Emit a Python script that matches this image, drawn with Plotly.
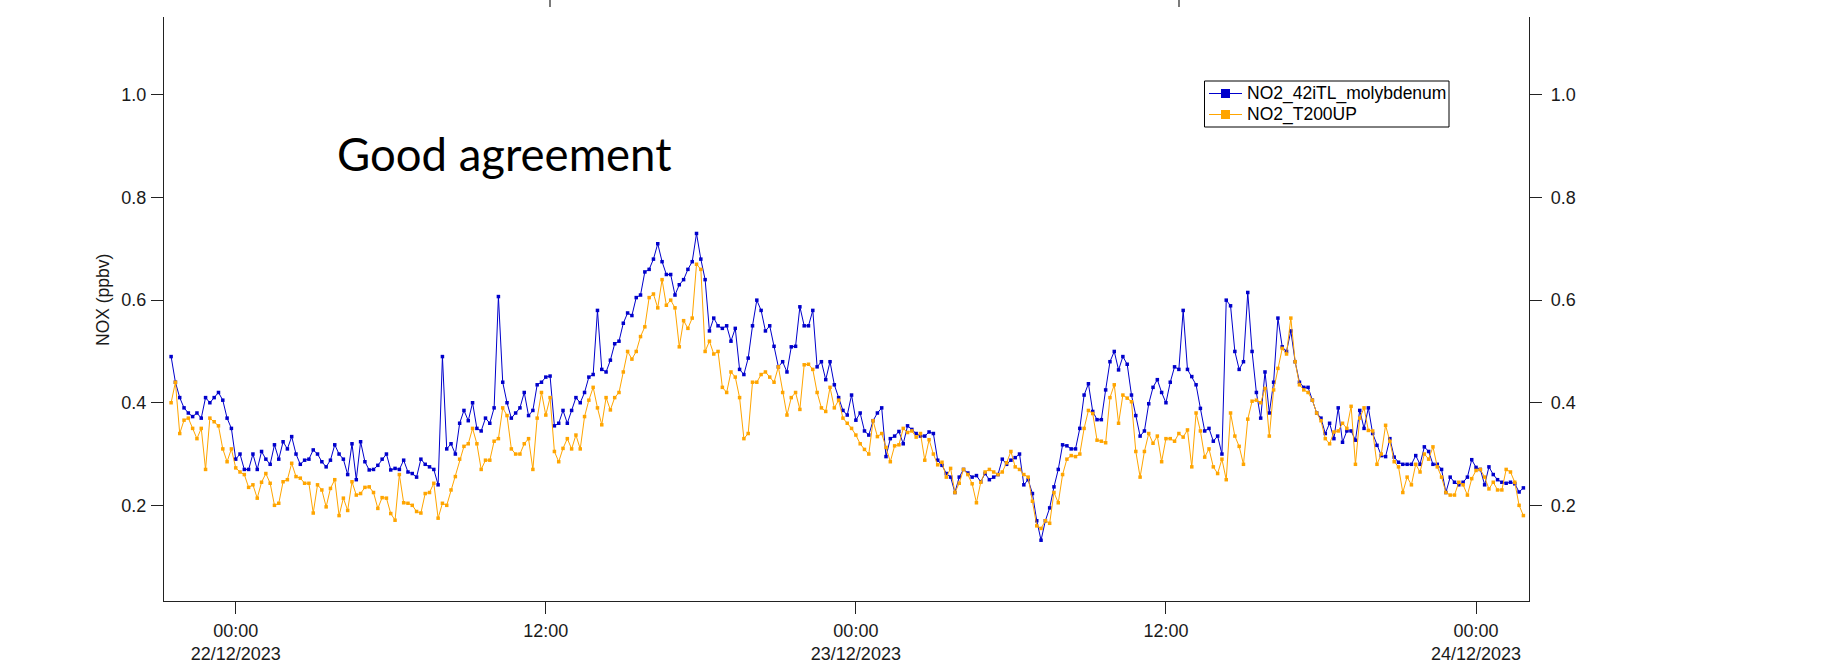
"""
NO2 comparison: 42iTL molybdenum converter vs T200UP (10-min data, 21-24/12/2023)
"""
import pandas as pd
import plotly.graph_objects as go

# ---- data (ppbv), one value every 10 min starting 21/12/2023 21:30 ----
START_TIME = "2023-12-21 21:30"
STEP = "10min"

no2_42itl_molybdenum = [
    0.49, 0.44, 0.41, 0.39, 0.38, 0.373, 0.38, 0.37, 0.41, 0.40,
    0.41, 0.42, 0.405, 0.37, 0.35, 0.29, 0.30, 0.27, 0.27, 0.30,
    0.27, 0.305, 0.29, 0.28, 0.318, 0.29, 0.324, 0.31, 0.334, 0.30,
    0.28, 0.288, 0.29, 0.308, 0.30, 0.285, 0.275, 0.288, 0.318, 0.30,
    0.29, 0.26, 0.32, 0.25, 0.324, 0.285, 0.269, 0.27, 0.278, 0.29,
    0.30, 0.269, 0.272, 0.27, 0.288, 0.265, 0.262, 0.255,
    0.29, 0.28, 0.275, 0.27, 0.24, 0.49, 0.31, 0.32, 0.30, 0.36,
    0.385, 0.365, 0.40, 0.35, 0.345, 0.37, 0.36, 0.39, 0.607, 0.44,
    0.40, 0.37, 0.38, 0.39, 0.42, 0.375, 0.385, 0.435, 0.44, 0.45,
    0.452, 0.355, 0.36, 0.385, 0.36, 0.385, 0.41, 0.40, 0.42, 0.45,
    0.455, 0.58, 0.465, 0.46, 0.483, 0.515, 0.52, 0.555, 0.575, 0.57,
    0.605, 0.61,
    0.655, 0.66, 0.68, 0.71, 0.675, 0.65, 0.65, 0.61, 0.63, 0.64,
    0.66, 0.675, 0.73, 0.68, 0.64, 0.54, 0.565, 0.55, 0.545, 0.55,
    0.52, 0.545, 0.465, 0.455, 0.487, 0.55, 0.60, 0.58, 0.54, 0.55,
    0.51, 0.47, 0.48, 0.46, 0.509, 0.51, 0.587, 0.55, 0.55, 0.58,
    0.47, 0.48, 0.445, 0.48, 0.435, 0.41, 0.385, 0.376, 0.415, 0.366,
    0.38, 0.345,
    0.337, 0.365, 0.38, 0.39, 0.295, 0.33, 0.335, 0.344, 0.32, 0.355,
    0.348, 0.34, 0.335, 0.335, 0.343, 0.34, 0.288, 0.278, 0.262, 0.255,
    0.225, 0.255, 0.27, 0.263, 0.255, 0.258, 0.246, 0.262, 0.25, 0.255,
    0.26, 0.29, 0.28, 0.288, 0.293, 0.30, 0.24, 0.25, 0.223, 0.17,
    0.132, 0.17, 0.195, 0.236, 0.27, 0.318, 0.316, 0.31, 0.31, 0.35,
    0.415, 0.437, 0.383,
    0.367, 0.367, 0.425, 0.48, 0.50, 0.464, 0.49, 0.475, 0.415, 0.375,
    0.335, 0.345, 0.398, 0.43, 0.445, 0.42, 0.40, 0.44, 0.47, 0.465,
    0.58, 0.465, 0.451, 0.435, 0.389, 0.345, 0.35, 0.325, 0.335, 0.30,
    0.60, 0.589, 0.50, 0.465, 0.48, 0.615, 0.50, 0.42, 0.37, 0.46,
    0.38, 0.44, 0.565, 0.509, 0.50, 0.54, 0.48, 0.44, 0.43, 0.43,
    0.405, 0.38,
    0.37, 0.34, 0.36, 0.33, 0.39, 0.323, 0.345, 0.345, 0.327, 0.385,
    0.35, 0.39, 0.34, 0.317, 0.297, 0.295, 0.33, 0.294, 0.284, 0.28,
    0.28, 0.28, 0.297, 0.28, 0.314, 0.305, 0.28, 0.28, 0.27, 0.225,
    0.255, 0.245, 0.24, 0.245, 0.255, 0.289, 0.274, 0.27, 0.24, 0.275,
    0.26, 0.25, 0.245, 0.243, 0.245, 0.242, 0.226, 0.234,
]

no2_t200up = [
    0.40, 0.44, 0.34, 0.366, 0.37, 0.35, 0.33, 0.35, 0.27, 0.37,
    0.363, 0.355, 0.31, 0.285, 0.31, 0.273, 0.265, 0.26, 0.235, 0.24,
    0.214, 0.245, 0.262, 0.243, 0.20, 0.204, 0.246, 0.25, 0.282, 0.256,
    0.253, 0.243, 0.243, 0.185, 0.24, 0.23, 0.197, 0.233, 0.25, 0.18,
    0.214, 0.19, 0.246, 0.22, 0.223, 0.235, 0.236, 0.225, 0.194, 0.215,
    0.214, 0.184, 0.171, 0.26, 0.205, 0.204, 0.20, 0.188,
    0.185, 0.223, 0.225, 0.243, 0.175, 0.204, 0.20, 0.23, 0.256, 0.29,
    0.315, 0.32, 0.35, 0.32, 0.27, 0.288, 0.288, 0.325, 0.33, 0.39,
    0.375, 0.31, 0.30, 0.30, 0.32, 0.33, 0.27, 0.37, 0.42, 0.376,
    0.41, 0.305, 0.285, 0.311, 0.33, 0.31, 0.337, 0.31, 0.373, 0.405,
    0.43, 0.39, 0.357, 0.41, 0.386, 0.41, 0.42, 0.46, 0.50, 0.485,
    0.50, 0.529,
    0.548, 0.605, 0.612, 0.585, 0.64, 0.59, 0.60, 0.585, 0.509, 0.56,
    0.545, 0.565, 0.67, 0.66, 0.50, 0.52, 0.495, 0.50, 0.43, 0.42,
    0.46, 0.45, 0.41, 0.33, 0.34, 0.44, 0.44, 0.455, 0.46, 0.45,
    0.44, 0.47, 0.42, 0.376, 0.41, 0.42, 0.387, 0.474, 0.475, 0.465,
    0.42, 0.39, 0.383, 0.43, 0.39, 0.405, 0.37, 0.36, 0.35, 0.337,
    0.32, 0.309,
    0.30, 0.365, 0.334, 0.34, 0.313, 0.285, 0.316, 0.318, 0.35, 0.342,
    0.345, 0.333, 0.34, 0.288, 0.328, 0.30, 0.279, 0.284, 0.255, 0.272,
    0.225, 0.243, 0.27, 0.26, 0.242, 0.205, 0.245, 0.265, 0.27, 0.265,
    0.26, 0.265, 0.283, 0.305, 0.275, 0.27, 0.26, 0.255, 0.208, 0.16,
    0.155, 0.17, 0.165, 0.225, 0.205, 0.26, 0.29, 0.297, 0.295, 0.30,
    0.35, 0.385, 0.379,
    0.327, 0.325, 0.322, 0.41, 0.435, 0.36, 0.415, 0.409, 0.402, 0.305,
    0.255, 0.305, 0.34, 0.321, 0.335, 0.285, 0.33, 0.33, 0.325, 0.34,
    0.333, 0.347, 0.275, 0.38, 0.345, 0.294, 0.31, 0.275, 0.262, 0.29,
    0.25, 0.38, 0.335, 0.315, 0.28, 0.368, 0.403, 0.405, 0.40, 0.428,
    0.335, 0.425, 0.467, 0.506, 0.495, 0.565, 0.48, 0.435, 0.425, 0.42,
    0.405, 0.38,
    0.365, 0.33, 0.32, 0.343, 0.345, 0.36, 0.35, 0.393, 0.28, 0.37,
    0.39, 0.346, 0.345, 0.28, 0.30, 0.356, 0.325, 0.285, 0.275, 0.225,
    0.255, 0.24, 0.28, 0.265, 0.30, 0.29, 0.314, 0.275, 0.255, 0.225,
    0.22, 0.22, 0.245, 0.24, 0.22, 0.252, 0.268, 0.27, 0.255, 0.232,
    0.245, 0.23, 0.23, 0.27, 0.265, 0.245, 0.20, 0.18,
]

series_names = ["NO2_42iTL_molybdenum", "NO2_T200UP"]

x_tick_vals = ["2023-12-22 00:00", "2023-12-22 12:00", "2023-12-23 00:00",
               "2023-12-23 12:00", "2023-12-24 00:00"]
x_tick_text = ["00:00<br>22/12/2023", "12:00", "00:00<br>23/12/2023",
               "12:00", "00:00<br>24/12/2023"]
y_tick_vals = [0.2, 0.4, 0.6, 0.8, 1.0]

X_RANGE = ["2023-12-21 21:13:30", "2023-12-24 02:03"]
Y_RANGE = [0.0135, 1.152]

BLUE = "#0000CC"
ORANGE = "#FFA500"
AXIS_COLOR = "#222222"
ARIAL = "Liberation Sans, Arial, sans-serif"
TICK_FONT = dict(family=ARIAL, size=18, color="#1a1a1a")

# plot area in page pixels (left, top, right, bottom)
W, H = 1823, 667
PL, PT, PR, PB = 164, 17, 1529, 601


def px_x(px):
    """page pixel -> paper x"""
    return (px - PL) / (PR - PL)


def px_y(py):
    """page pixel -> paper y"""
    return (PB - py) / (PB - PT)


times = pd.date_range(START_TIME, periods=len(no2_42itl_molybdenum), freq=STEP)

fig = go.Figure()

for name, values, color in [(series_names[0], no2_42itl_molybdenum, BLUE),
                            (series_names[1], no2_t200up, ORANGE)]:
    fig.add_trace(go.Scatter(
        x=times, y=values, name=name,
        mode="lines+markers",
        line=dict(color=color, width=1),
        marker=dict(symbol="square", size=3.5, color=color),
        showlegend=False,
    ))

# empty trace so the right-hand mirror axis gets drawn
fig.add_trace(go.Scatter(x=[times[0]], y=[None], yaxis="y2",
                         showlegend=False, hoverinfo="skip"))

axis_common = dict(
    showgrid=False, zeroline=False, showline=True, automargin=False,
    linecolor=AXIS_COLOR, linewidth=1.2,
    ticks="outside", ticklen=12, tickwidth=1.2, tickcolor=AXIS_COLOR,
    tickfont=TICK_FONT,
)

fig.update_layout(
    width=W, height=H,
    paper_bgcolor="white", plot_bgcolor="white",
    margin=dict(l=PL, r=W - PR, t=PT, b=H - PB, autoexpand=False),
    xaxis=dict(range=X_RANGE, tickmode="array", tickvals=x_tick_vals,
               ticktext=x_tick_text, ticklabelstandoff=1, **axis_common),
    yaxis=dict(range=Y_RANGE, tickvals=y_tick_vals, tickformat=".1f",
               side="left", ticklabelstandoff=1, **axis_common),
    yaxis2=dict(range=Y_RANGE, tickvals=y_tick_vals, tickformat=".1f",
                overlaying="y", side="right", ticklabelstandoff=5, **axis_common),
    showlegend=False,
)

# y axis title placed by hand, close to the tick labels
fig.add_annotation(
    text="NOX (ppbv)", textangle=-90, showarrow=False,
    xref="paper", yref="paper", x=px_x(103), y=px_y(300),
    xanchor="center", yanchor="middle",
    font=dict(family=ARIAL, size=17.5, color="#1a1a1a"),
)

# slide text
fig.add_annotation(
    text="Good agreement", showarrow=False,
    xref="paper", yref="paper", x=px_x(504), y=px_y(153),
    xanchor="center", yanchor="middle",
    font=dict(family="Lato, Open Sans, sans-serif", size=45.5, color="black"),
)

# Igor-style legend box drawn by hand (plotly's legend rows are too tall)
fig.add_shape(type="rect", xref="paper", yref="paper",
              x0=px_x(1204.5), x1=px_x(1449), y0=px_y(127), y1=px_y(81),
              line=dict(color="black", width=1), fillcolor="white", layer="above")
for row_y, name, color in [(93.5, series_names[0], BLUE), (114.5, series_names[1], ORANGE)]:
    fig.add_shape(type="line", xref="paper", yref="paper",
                  x0=px_x(1209), x1=px_x(1242), y0=px_y(row_y), y1=px_y(row_y),
                  line=dict(color=color, width=1.2), layer="above")
    fig.add_shape(type="rect", xref="paper", yref="paper",
                  x0=px_x(1221), x1=px_x(1230), y0=px_y(row_y + 4.5), y1=px_y(row_y - 4.5),
                  line=dict(width=0), fillcolor=color, layer="above")
    fig.add_annotation(
        text=name, showarrow=False, xref="paper", yref="paper",
        x=px_x(1245), y=px_y(row_y), xanchor="left", yanchor="middle",
        font=dict(family=ARIAL, size=17.5, color="black"),
    )

# stray ticks from the panel above (cut off at the top edge)
for tick_px in [550, 1179]:
    fig.add_shape(type="line", xref="paper", yref="paper",
                  x0=px_x(tick_px), x1=px_x(tick_px), y0=px_y(7), y1=px_y(0),
                  line=dict(color=AXIS_COLOR, width=1.2))

# drop the default 8px body margin so the figure sits at the page origin
fig.write_html("out.html", config={"displayModeBar": False},
               post_script="document.body.style.margin = '0';")
